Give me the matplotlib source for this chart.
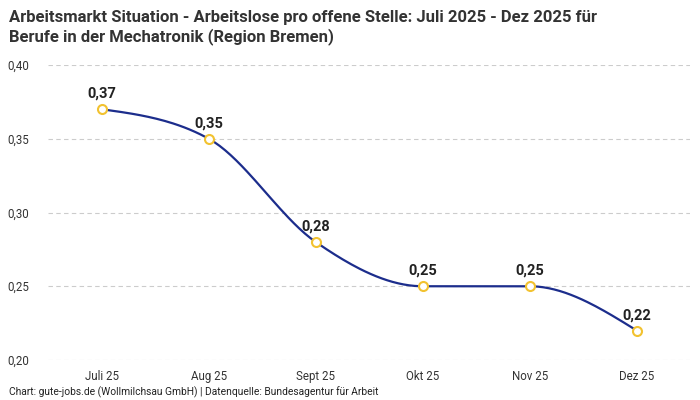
import numpy as np
import matplotlib.pyplot as plt

plt.rcParams['font.family'] = ['Roboto', 'DejaVu Sans']

months = ["Juli 25", "Aug 25", "Sept 25", "Okt 25", "Nov 25", "Dez 25"]
values = [0.37, 0.35, 0.28, 0.25, 0.25, 0.22]
yticks = [0.20, 0.25, 0.30, 0.35, 0.40]


def monotone_curve(x, y, n=40):
    # d3 curveMonotoneX style smoothing
    x = np.asarray(x, float)
    y = np.asarray(y, float)
    h = np.diff(x)
    s = np.diff(y) / h
    t = np.zeros(len(x))
    for i in range(1, len(x) - 1):
        p = (s[i - 1] * h[i] + s[i] * h[i - 1]) / (h[i - 1] + h[i])
        t[i] = (np.sign(s[i - 1]) + np.sign(s[i])) * min(abs(s[i - 1]), abs(s[i]), 0.5 * abs(p))
    t[0] = (3 * s[0] - t[1]) / 2
    t[-1] = (3 * s[-1] - t[-2]) / 2
    xs, ys = [], []
    u = np.linspace(0, 1, n)
    for i in range(len(x) - 1):
        dx = h[i] / 3
        p0 = (x[i], y[i])
        p1 = (x[i] + dx, y[i] + dx * t[i])
        p2 = (x[i + 1] - dx, y[i + 1] - dx * t[i + 1])
        p3 = (x[i + 1], y[i + 1])
        bx = (1 - u) ** 3 * p0[0] + 3 * (1 - u) ** 2 * u * p1[0] + 3 * (1 - u) * u ** 2 * p2[0] + u ** 3 * p3[0]
        by = (1 - u) ** 3 * p0[1] + 3 * (1 - u) ** 2 * u * p1[1] + 3 * (1 - u) * u ** 2 * p2[1] + u ** 3 * p3[1]
        xs.extend(bx)
        ys.extend(by)
    return np.array(xs), np.array(ys)


fig = plt.figure(figsize=(7, 4), dpi=100)
ax = fig.add_axes([0.069, 0.1, 0.917, 0.7375])

xpos = np.arange(len(months))
cx, cy = monotone_curve(xpos, values)
ax.plot(cx, cy, color="#1c2d8c", lw=1.6, zorder=3)
ax.scatter(xpos, values, s=42, facecolor="white", edgecolor="#f2c230", linewidth=1.5, zorder=4)

for xi, v in zip(xpos, values):
    ax.annotate(f"{v:.2f}".replace(".", ","), (xi, v), xytext=(0, 6), textcoords="offset points",
                ha="center", va="bottom", fontsize=10.5, fontweight="bold", color="#222222")

ax.set_xlim(-0.5, len(months) - 0.5)
ax.set_ylim(0.20, 0.40)
ax.set_yticks(yticks)
ax.set_yticklabels([f"{v:.2f}".replace(".", ",") for v in yticks])
ax.set_xticks(xpos)
ax.set_xticklabels(months)
ax.tick_params(axis="both", length=0, labelsize=8.3, colors="#333333")
ax.tick_params(axis="x", pad=7)
ax.tick_params(axis="y", pad=14)
ax.grid(axis="y", color="#cccccc", linestyle=(0, (4, 3)), lw=0.8)
ax.set_axisbelow(True)
for sp in ax.spines.values():
    sp.set_visible(False)

fig.text(0.013, 0.975, "Arbeitsmarkt Situation - Arbeitslose pro offene Stelle: Juli 2025 - Dez 2025 für\nBerufe in der Mechatronik (Region Bremen)",
         ha="left", va="top", fontsize=12, fontweight="bold", color="#333333", linespacing=1.2)
fig.text(0.013, 0.004, "Chart: gute-jobs.de (Wollmilchsau GmbH) | Datenquelle: Bundesagentur für Arbeit",
         ha="left", va="bottom", fontsize=7.4, color="#222222")

fig.savefig("out.png", dpi=100)
